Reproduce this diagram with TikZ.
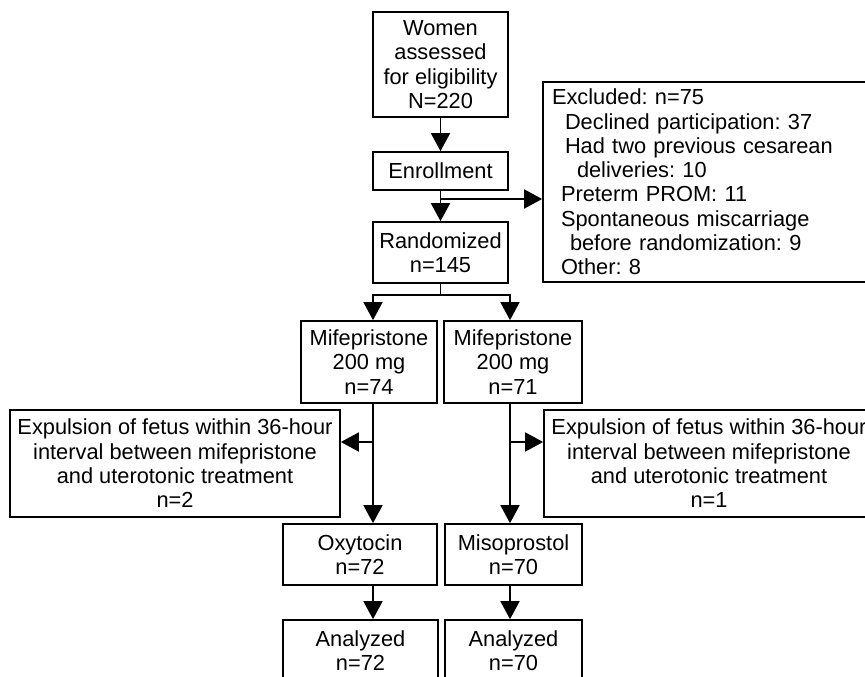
\documentclass[tikz,border=0pt]{standalone}
\usepackage{fontspec}
\setmainfont{Liberation Sans}
\usetikzlibrary{arrows.meta}
\newcommand\boxfont{\fontsize{21.8}{24.3}\selectfont}
\frenchspacing
\begin{document}
\begin{tikzpicture}[x=1pt,y=-1pt,
  box/.style={draw, line width=1.7pt, inner sep=0pt, align=center, font=\boxfont},
  arr/.style={line width=1.7pt, -{Triangle[length=18pt,width=19pt]}},
  ln/.style={line width=1.7pt, line cap=rect}]
\useasboundingbox (0,0) rectangle (865,677);
\clip (0,0) rectangle (865,677);
\fill[white] (0,0) rectangle (865,677);

\node[box, minimum width=135pt, minimum height=105pt] (women) at (440.5,64.5) {Women\\assessed\\for eligibility\\N=220};
\node[box, minimum width=135pt, minimum height=38pt] (enroll) at (440.5,171) {Enrollment};
\node[box, minimum width=135pt, minimum height=61pt] (rand) at (440.5,252.5) {Randomized\\n=145};
\node[box, minimum width=332pt, minimum height=200pt, inner xsep=9pt, text width=314pt, align=left] (excl) at (709,182) {Excluded: n=75\\
\hspace*{13pt}Declined participation: 37\\
\hspace*{13pt}Had two previous cesarean\\
\hspace*{25pt}deliveries: 10\\
\hspace*{9pt}Preterm PROM: 11\\
\hspace*{9pt}Spontaneous miscarriage\\
\hspace*{18pt}before randomization: 9\\
\hspace*{9pt}Other: 8};
\node[box, minimum width=136pt, minimum height=82pt] (mifL) at (369,362) {Mifepristone\\200 mg\\n=74};
\node[box, minimum width=138pt, minimum height=82pt] (mifR) at (513,362) {Mifepristone\\200 mg\\n=71};
\node[box, minimum width=330pt, minimum height=107pt] (expL) at (175,463.5) {Expulsion of fetus within 36-hour\\interval between mifepristone\\and uterotonic treatment\\n=2};
\node[box, minimum width=330pt, minimum height=107pt] (expR) at (709,463.5) {Expulsion of fetus within 36-hour\\interval between mifepristone\\and uterotonic treatment\\n=1};
\node[box, minimum width=154pt, minimum height=61pt] (oxy) at (360,554.5) {Oxytocin\\n=72};
\node[box, minimum width=137pt, minimum height=61pt] (miso) at (513.5,554.5) {Misoprostol\\n=70};
\node[box, minimum width=155pt, minimum height=61pt] (anaL) at (360.5,650.5) {Analyzed\\n=72};
\node[box, minimum width=137pt, minimum height=61pt] (anaR) at (513.5,650.5) {Analyzed\\n=70};

\coordinate (cL) at (373,0);
\coordinate (cR) at (510,0);
\coordinate (jr) at (440.5,295);
\coordinate (je) at (440.5,199);
\coordinate (sL) at (373,442);
\coordinate (sR) at (510,442);

\draw[arr] (women) -- (enroll);
\draw[arr] (enroll) -- (rand);
\draw[arr] (je) -- (je -| excl.west);
\draw[ln] (rand.south) -- (jr);
\draw[ln] (jr -| cL) -- (jr -| cR);
\draw[arr] (jr -| cL) -- (mifL.north -| cL);
\draw[arr] (jr -| cR) -- (mifR.north -| cR);
\draw[arr] (mifL.south -| cL) -- (oxy.north -| cL);
\draw[arr] (mifR.south -| cR) -- (miso.north -| cR);
\draw[arr] (sL) -- (sL -| expL.east);
\draw[arr] (sR) -- (sR -| expR.west);
\draw[arr] (oxy.south -| cL) -- (anaL.north -| cL);
\draw[arr] (miso.south -| cR) -- (anaR.north -| cR);
\end{tikzpicture}
\end{document}
